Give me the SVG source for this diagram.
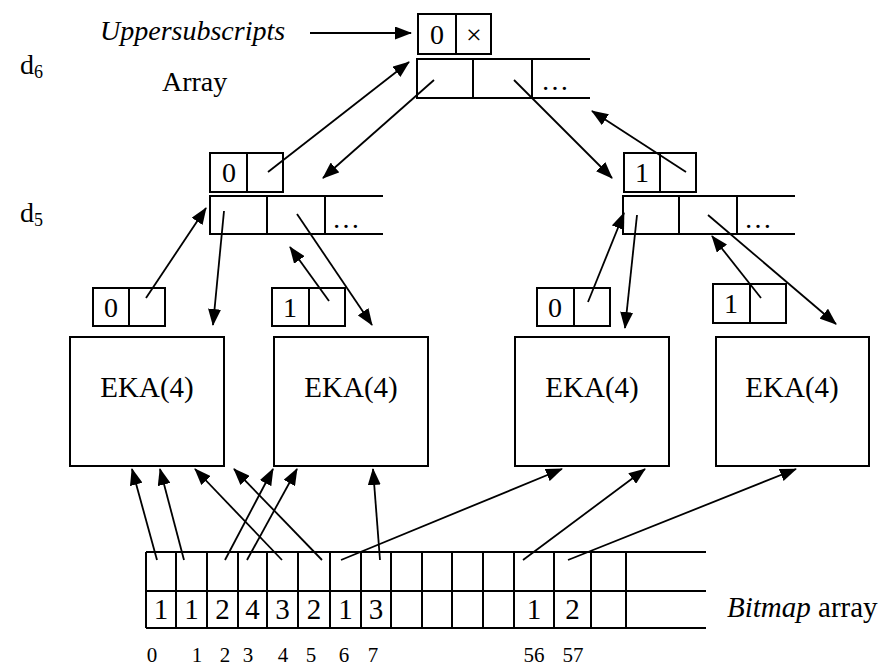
<svg xmlns="http://www.w3.org/2000/svg" width="885" height="666" viewBox="0 0 885 666">
<style>
  .bx{fill:none;stroke:#000;stroke-width:2}
  .ln{fill:none;stroke:#000;stroke-width:2}
  .cn{fill:none;stroke:#000;stroke-width:1.8;marker-end:url(#ah)}
  .t{font-family:"Liberation Serif","Times New Roman",serif;font-size:28px;fill:#000}
  .b{font-size:29px}
  .c{text-anchor:middle}
  .i{font-style:italic}
  .s{font-size:21px}
</style>
<defs>
  <marker id="ah" markerUnits="userSpaceOnUse" markerWidth="17" markerHeight="13" refX="16" refY="6.5" orient="auto">
    <path d="M0,0 L17,6.5 L0,13 Z" fill="#000"/>
  </marker>
</defs>
<rect width="885" height="666" fill="#fff"/>

<g id="labels">
  <text class="t" x="20" y="74">d<tspan font-size="18" dy="4">6</tspan></text>
  <text class="t" x="20" y="222">d<tspan font-size="18" dy="4">5</tspan></text>
  <text class="t i" x="100" y="40">Uppersubscripts</text>
  <text class="t" x="162" y="91">Array</text>
  <text class="t b" x="727" y="617"><tspan class="i">Bitmap</tspan> array</text>
</g>

<g id="top-head">
  <rect class="bx" x="418" y="14" width="73" height="40"/>
  <line class="ln" x1="456" y1="14" x2="456" y2="54"/>
  <text class="t c" x="437" y="44">0</text>
  <text class="t c" x="474" y="44">×</text>
</g>
<g id="top-array">
  <path class="ln" d="M590,59 H417 V98 H590 M473,59 V98 M532,59 V98"/>
  <text class="t c" x="555" y="90">…</text>
</g>

<g id="d5-left-head">
  <rect class="bx" x="210" y="153" width="73" height="39"/>
  <line class="ln" x1="247" y1="153" x2="247" y2="192"/>
  <text class="t c" x="229" y="182">0</text>
</g>
<g id="d5-left-array">
  <path class="ln" d="M383,196 H210 V234 H383 M267,196 V234 M325,196 V234"/>
  <text class="t c" x="346" y="228">…</text>
</g>

<g id="d5-right-head">
  <rect class="bx" x="624" y="153" width="72" height="39"/>
  <line class="ln" x1="660" y1="153" x2="660" y2="192"/>
  <text class="t c" x="642" y="182">1</text>
</g>
<g id="d5-right-array">
  <path class="ln" d="M795,196 H623 V234 H795 M679,196 V234 M737,196 V234"/>
  <text class="t c" x="758" y="228">…</text>
</g>

<g id="head-1">
  <rect class="bx" x="93" y="288" width="72" height="38"/>
  <line class="ln" x1="129" y1="288" x2="129" y2="326"/>
  <text class="t c" x="111" y="317">0</text>
</g>
<g id="head-2">
  <rect class="bx" x="272" y="288" width="73" height="38"/>
  <line class="ln" x1="309" y1="288" x2="309" y2="326"/>
  <text class="t c" x="290" y="317">1</text>
</g>
<g id="head-3">
  <rect class="bx" x="537" y="288" width="73" height="38"/>
  <line class="ln" x1="574" y1="288" x2="574" y2="326"/>
  <text class="t c" x="555" y="317">0</text>
</g>
<g id="head-4">
  <rect class="bx" x="713" y="284" width="73" height="39"/>
  <line class="ln" x1="750" y1="284" x2="750" y2="323"/>
  <text class="t c" x="731" y="313">1</text>
</g>

<g id="eka-1">
  <rect class="bx" x="70" y="337" width="154" height="129"/>
  <text class="t b c" x="147" y="397">EKA(4)</text>
</g>
<g id="eka-2">
  <rect class="bx" x="274" y="337" width="154" height="129"/>
  <text class="t b c" x="351" y="397">EKA(4)</text>
</g>
<g id="eka-3">
  <rect class="bx" x="515" y="337" width="154" height="129"/>
  <text class="t b c" x="592" y="397">EKA(4)</text>
</g>
<g id="eka-4">
  <rect class="bx" x="716" y="337" width="153" height="129"/>
  <text class="t b c" x="792" y="397">EKA(4)</text>
</g>

<g id="bitmap">
  <path class="ln" d="M146,552 H706 M146,591 H706 M146,628 H706"/>
  <path class="ln" d="M146,552 V628 M176,552 V628 M207,552 V628 M238,552 V628 M267,552 V628 M298,552 V628 M330,552 V628 M361,552 V628 M391,552 V628 M422,552 V628 M452,552 V628 M483,552 V628 M514,552 V628 M554,552 V628 M591,552 V628 M626,552 V628"/>
  <text class="t b c" x="161" y="619">1</text>
  <text class="t b c" x="191.5" y="619">1</text>
  <text class="t b c" x="222.5" y="619">2</text>
  <text class="t b c" x="252.5" y="619">4</text>
  <text class="t b c" x="282.5" y="619">3</text>
  <text class="t b c" x="314" y="619">2</text>
  <text class="t b c" x="345.5" y="619">1</text>
  <text class="t b c" x="376" y="619">3</text>
  <text class="t b c" x="534" y="619">1</text>
  <text class="t b c" x="572.5" y="619">2</text>
  <text class="t c s" x="152" y="662">0</text>
  <text class="t c s" x="197" y="662">1</text>
  <text class="t c s" x="225" y="662">2</text>
  <text class="t c s" x="248" y="662">3</text>
  <text class="t c s" x="283" y="662">4</text>
  <text class="t c s" x="311" y="662">5</text>
  <text class="t c s" x="344" y="662">6</text>
  <text class="t c s" x="373" y="662">7</text>
  <text class="t c s" x="534" y="662">56</text>
  <text class="t c s" x="573" y="662">57</text>
</g>

<g id="connectors">
  <line class="cn" x1="310" y1="33" x2="411" y2="33"/>
  <line class="cn" x1="268" y1="172" x2="409" y2="62"/>
  <line class="cn" x1="434" y1="80" x2="323" y2="178"/>
  <line class="cn" x1="514" y1="80" x2="612" y2="178"/>
  <line class="cn" x1="686" y1="172" x2="592" y2="111"/>

  <line class="cn" x1="146" y1="298" x2="206" y2="208"/>
  <line class="cn" x1="224" y1="211" x2="213" y2="325"/>
  <line class="cn" x1="329" y1="301" x2="290" y2="247"/>
  <line class="cn" x1="297" y1="214" x2="372" y2="325"/>

  <line class="cn" x1="588" y1="302" x2="624" y2="213"/>
  <line class="cn" x1="637" y1="215" x2="625" y2="328"/>
  <line class="cn" x1="761" y1="298" x2="712" y2="236"/>
  <line class="cn" x1="708" y1="215" x2="836" y2="324"/>

  <line class="cn" x1="157" y1="560" x2="132" y2="469"/>
  <line class="cn" x1="184" y1="560" x2="160" y2="469"/>
  <line class="cn" x1="225" y1="560" x2="273" y2="469"/>
  <line class="cn" x1="247" y1="560" x2="297" y2="469"/>
  <line class="cn" x1="282" y1="560" x2="195" y2="469"/>
  <line class="cn" x1="322" y1="560" x2="234" y2="469"/>
  <line class="cn" x1="341" y1="560" x2="562" y2="469"/>
  <line class="cn" x1="380" y1="560" x2="373" y2="469"/>
  <line class="cn" x1="523" y1="560" x2="645" y2="469"/>
  <line class="cn" x1="568" y1="560" x2="796" y2="469"/>
</g>
</svg>
